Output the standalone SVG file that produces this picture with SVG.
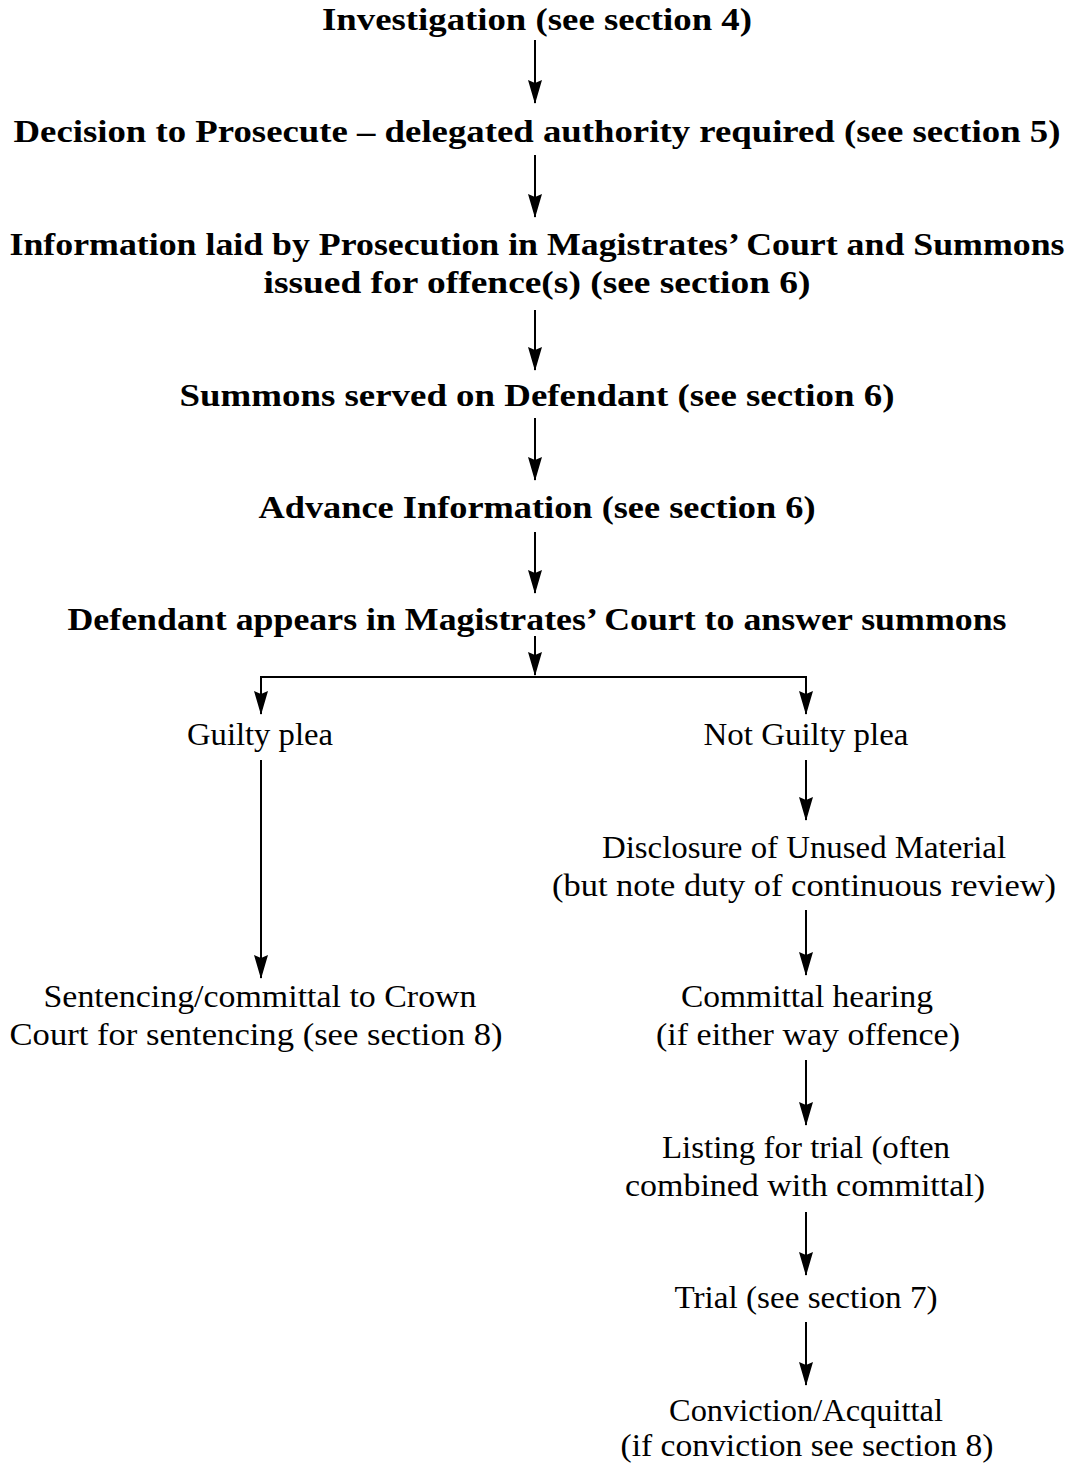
<svg xmlns="http://www.w3.org/2000/svg" width="1074" height="1465" viewBox="0 0 1074 1465">
<style>
text{font-family:"Liberation Serif","DejaVu Serif",serif;fill:#000;text-anchor:middle}
.b{font-weight:bold;font-size:32px}
.r{font-size:32px}
.c line,.c path{stroke:#000;stroke-width:2;fill:none}
</style>
<defs>
<marker id="a" viewBox="0 0 24 14" refX="23" refY="7" markerWidth="24" markerHeight="14" markerUnits="userSpaceOnUse" orient="auto">
<path d="M0,0 L24,7 L0,14 L3,7 Z" fill="#000"/>
</marker>
</defs>
<rect width="1074" height="1465" fill="#fff"/>
<g id="n1"><text class="b" x="537" y="30" textLength="430" lengthAdjust="spacingAndGlyphs">Investigation (see section 4)</text></g>
<g id="n2"><text class="b" x="537" y="142" textLength="1047" lengthAdjust="spacingAndGlyphs">Decision to Prosecute – delegated authority required (see section 5)</text></g>
<g id="n3"><text class="b" x="537" y="255" textLength="1055" lengthAdjust="spacingAndGlyphs">Information laid by Prosecution in Magistrates’ Court and Summons</text>
<text class="b" x="537" y="293" textLength="547" lengthAdjust="spacingAndGlyphs">issued for offence(s) (see section 6)</text></g>
<g id="n4"><text class="b" x="537" y="406" textLength="715" lengthAdjust="spacingAndGlyphs">Summons served on Defendant (see section 6)</text></g>
<g id="n5"><text class="b" x="537" y="518" textLength="557" lengthAdjust="spacingAndGlyphs">Advance Information (see section 6)</text></g>
<g id="n6"><text class="b" x="537" y="630" textLength="939" lengthAdjust="spacingAndGlyphs">Defendant appears in Magistrates’ Court to answer summons</text></g>
<g id="n7"><text class="r" x="260" y="745" textLength="146" lengthAdjust="spacingAndGlyphs">Guilty plea</text></g>
<g id="n8"><text class="r" x="806" y="745" textLength="205" lengthAdjust="spacingAndGlyphs">Not Guilty plea</text></g>
<g id="n9"><text class="r" x="260" y="1007" textLength="433" lengthAdjust="spacingAndGlyphs">Sentencing/committal to Crown</text>
<text class="r" x="256" y="1045" textLength="493" lengthAdjust="spacingAndGlyphs">Court for sentencing (see section 8)</text></g>
<g id="n10"><text class="r" x="804" y="858" textLength="404" lengthAdjust="spacingAndGlyphs">Disclosure of Unused Material</text>
<text class="r" x="804" y="896" textLength="504" lengthAdjust="spacingAndGlyphs">(but note duty of continuous review)</text></g>
<g id="n11"><text class="r" x="807" y="1007" textLength="252" lengthAdjust="spacingAndGlyphs">Committal hearing</text>
<text class="r" x="808" y="1045" textLength="304" lengthAdjust="spacingAndGlyphs">(if either way offence)</text></g>
<g id="n12"><text class="r" x="806" y="1158" textLength="288" lengthAdjust="spacingAndGlyphs">Listing for trial (often</text>
<text class="r" x="805" y="1196" textLength="360" lengthAdjust="spacingAndGlyphs">combined with committal)</text></g>
<g id="n13"><text class="r" x="806" y="1308" textLength="263" lengthAdjust="spacingAndGlyphs">Trial (see section 7)</text></g>
<g id="n14"><text class="r" x="806" y="1421" textLength="274" lengthAdjust="spacingAndGlyphs">Conviction/Acquittal</text>
<text class="r" x="807" y="1456" textLength="373" lengthAdjust="spacingAndGlyphs">(if conviction see section 8)</text></g>
<g class="c" id="connectors">
<line x1="535" y1="40" x2="535" y2="103" marker-end="url(#a)"/>
<line x1="535" y1="155" x2="535" y2="217" marker-end="url(#a)"/>
<line x1="535" y1="310" x2="535" y2="370" marker-end="url(#a)"/>
<line x1="535" y1="418" x2="535" y2="480" marker-end="url(#a)"/>
<line x1="535" y1="532" x2="535" y2="593" marker-end="url(#a)"/>
<line x1="535" y1="636" x2="535" y2="675" marker-end="url(#a)"/>
<path d="M261,700 L261,677 L806,677 L806,700"/>
<line x1="261" y1="690" x2="261" y2="714" marker-end="url(#a)"/>
<line x1="806" y1="690" x2="806" y2="714" marker-end="url(#a)"/>
<line x1="261" y1="760" x2="261" y2="978" marker-end="url(#a)"/>
<line x1="806" y1="760" x2="806" y2="820" marker-end="url(#a)"/>
<line x1="806" y1="910" x2="806" y2="975" marker-end="url(#a)"/>
<line x1="806" y1="1060" x2="806" y2="1125" marker-end="url(#a)"/>
<line x1="806" y1="1212" x2="806" y2="1275" marker-end="url(#a)"/>
<line x1="806" y1="1322" x2="806" y2="1385" marker-end="url(#a)"/>
</g>
</svg>
